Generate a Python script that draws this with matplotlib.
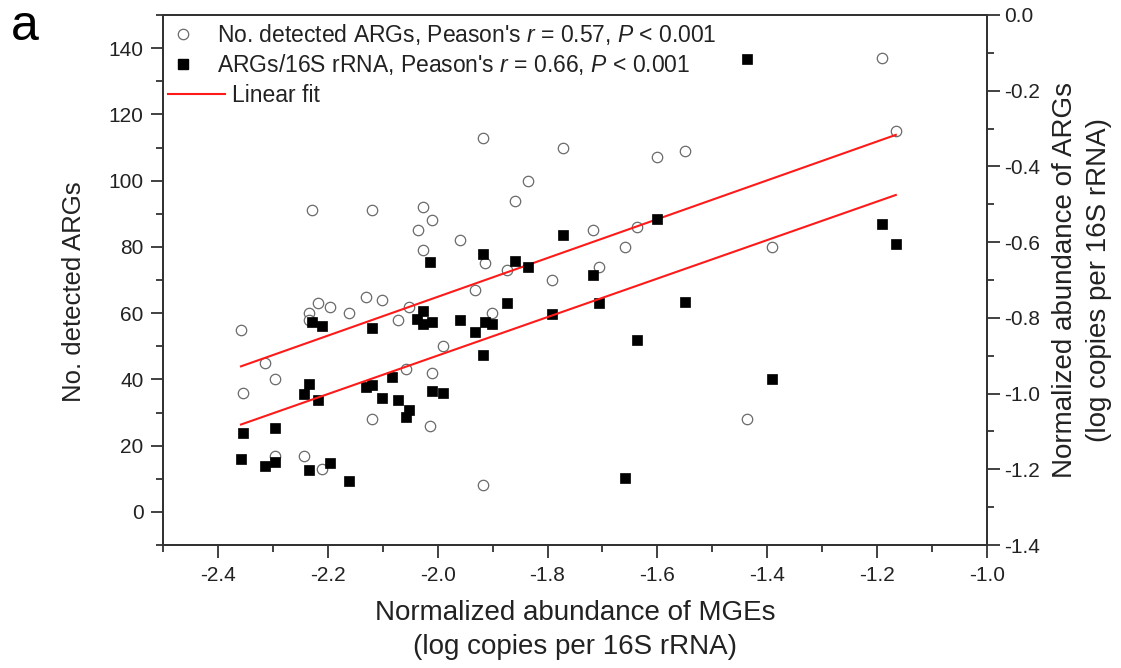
import numpy as np
import matplotlib.pyplot as plt
from matplotlib.lines import Line2D
from matplotlib.ticker import MultipleLocator, FormatStrFormatter

plt.rcParams['font.family'] = ['Liberation Sans', 'DejaVu Sans']
plt.rcParams['mathtext.fontset'] = 'custom'
plt.rcParams['mathtext.rm'] = 'Liberation Sans'
plt.rcParams['mathtext.it'] = 'Liberation Sans:italic'
plt.rcParams['axes.unicode_minus'] = False

# No. detected ARGs (left axis) vs normalized MGE abundance
mge_cnt = [-2.358, -2.314, -2.354, -2.296, -2.234, -2.234, -2.218, -2.196,
           -2.161, -2.130, -2.102, -2.053, -2.072, -1.932, -1.914, -1.874,
           -1.791, -1.902, -1.991, -2.058, -2.010, -2.119, -2.014, -2.296,
           -2.243, -2.210, -1.917, -1.917, -1.771, -1.835, -1.859, -2.229,
           -2.119, -2.026, -2.011, -2.036, -1.959, -2.027, -1.706, -1.436,
           -1.191, -1.166, -1.601, -1.550, -1.717, -1.638, -1.659, -1.392]
args_cnt = [55, 45, 36, 40, 60, 58, 63, 62,
            60, 65, 64, 62, 58, 67, 75, 73,
            70, 60, 50, 43, 42, 28, 26, 17,
            17, 13, 8, 113, 110, 100, 94, 91,
            91, 92, 88, 85, 82, 79, 74, 28,
            137, 115, 107, 109, 85, 86, 80, 80]

# ARGs/16S rRNA (right axis, log) vs normalized MGE abundance
mge_abd = [-2.229, -2.210, -2.119, -2.027, -2.038, -2.026, -2.011, -2.014,
           -1.859, -1.835, -1.959, -1.932, -1.914, -1.902, -1.917, -1.874,
           -1.791, -2.084, -2.234, -2.243, -2.218, -2.130, -2.119, -2.102,
           -2.072, -2.053, -2.058, -2.010, -1.991, -2.354, -2.296, -2.358,
           -2.314, -2.296, -2.234, -2.196, -2.161, -1.717, -1.706, -1.550,
           -1.638, -1.392, -1.659, -1.917, -1.771, -1.436, -1.601, -1.191,
           -1.166]
args_abd = [-0.812, -0.821, -0.826, -0.782, -0.803, -0.816, -0.812, -0.652,
            -0.650, -0.666, -0.806, -0.837, -0.810, -0.817, -0.898, -0.762,
            -0.790, -0.955, -0.976, -1.002, -1.017, -0.982, -0.977, -1.012,
            -1.017, -1.043, -1.061, -0.992, -0.999, -1.105, -1.092, -1.172,
            -1.191, -1.182, -1.202, -1.184, -1.231, -0.687, -0.760, -0.757,
            -0.858, -0.962, -1.224, -0.631, -0.582, -0.116, -0.539, -0.552,
            -0.606]

label_cnt = "No. detected ARGs, Peason's $\\mathit{r}$ = 0.57, $\\mathit{P}$ < 0.001"
label_abd = "ARGs/16S rRNA, Peason's $\\mathit{r}$ = 0.66, $\\mathit{P}$ < 0.001"

axis_col = '#333333'
text_col = '#222222'

fig = plt.figure(figsize=(11.21, 6.68), dpi=100)
ax = fig.add_axes([163 / 1121, 123 / 668, 824 / 1121, 530 / 668])
ax2 = ax.twinx()

# scatter
ax.plot(mge_cnt, args_cnt, 'o', ms=7.5, mfc='white', mec='#6a6a6a', mew=0.9)
ax2.plot(mge_abd, args_abd, 's', ms=7, mfc='black', mec='black', mew=0.5)

# linear fits
for xs, ys, a in [(mge_cnt, args_cnt, ax), (mge_abd, args_abd, ax2)]:
    k, b = np.polyfit(xs, ys, 1)
    xx = np.array([min(xs), max(xs)])
    a.plot(xx, k * xx + b, '-', color='#ff1a1a', lw=1.5)

ax.set_xlim(-2.5, -1.0)
ax.set_ylim(-10, 150)
ax2.set_ylim(-1.4, 0.0)

ax.xaxis.set_major_locator(MultipleLocator(0.2))
ax.xaxis.set_minor_locator(MultipleLocator(0.1))
ax.xaxis.set_major_formatter(FormatStrFormatter('%.1f'))
ax.yaxis.set_minor_locator(MultipleLocator(10))
ax.set_yticks([0, 20, 40, 60, 80, 100, 120, 140])
ax2.yaxis.set_major_locator(MultipleLocator(0.2))
ax2.yaxis.set_minor_locator(MultipleLocator(0.1))
ax2.yaxis.set_major_formatter(FormatStrFormatter('%.1f'))

for a in (ax, ax2):
    for s in a.spines.values():
        s.set_linewidth(1.4)
        s.set_color(axis_col)

ax.tick_params(axis='x', which='both', direction='out', top=False, color=axis_col,
               labelsize=15, labelcolor=text_col, width=1.3, pad=6)
ax.tick_params(axis='x', which='major', length=9)
ax.tick_params(axis='x', which='minor', length=5)
ax.tick_params(axis='y', which='both', direction='out', right=False, color=axis_col,
               labelsize=15, labelcolor=text_col, width=1.3, pad=5)
ax.tick_params(axis='y', which='major', length=9)
ax.tick_params(axis='y', which='minor', length=5)
ax2.tick_params(axis='y', which='both', direction='out', color=axis_col,
                labelsize=15, labelcolor=text_col, width=1.3, pad=3)
ax2.tick_params(axis='y', which='major', length=9)
ax2.tick_params(axis='y', which='minor', length=5)

ax.set_xlabel('Normalized abundance of MGEs\n(log copies per 16S rRNA)',
              fontsize=20, color=text_col, labelpad=11, linespacing=1.38)
ax.set_ylabel('No. detected ARGs', fontsize=18.5, color=text_col)
ax.yaxis.set_label_coords(-0.094, 0.478)
ax2.set_ylabel('Normalized abundance of ARGs\n(log copies per 16S rRNA)',
               fontsize=20, color=text_col, labelpad=9, linespacing=1.4)

# legend: markers, then the fit line
h_cnt = Line2D([], [], ls='', marker='o', ms=7.5, mfc='white', mec='#6a6a6a', mew=0.9)
h_abd = Line2D([], [], ls='', marker='s', ms=7, mfc='black', mec='black')
leg1 = ax2.legend([h_cnt, h_abd], [label_cnt, label_abd], loc='upper left',
                  bbox_to_anchor=(0.010, 0.986), frameon=False, fontsize=16.5,
                  handlelength=1.0, handletextpad=1.0, labelspacing=0.2,
                  borderpad=0, borderaxespad=0)
for t in leg1.get_texts():
    t.set_color(text_col)
ax2.add_artist(leg1)
h_fit = Line2D([], [], color='#ff1a1a', lw=1.5)
leg2 = ax2.legend([h_fit], ['Linear fit'], loc='upper left',
                  bbox_to_anchor=(0.006, 0.870), frameon=False, fontsize=16.5,
                  handlelength=2.5, handletextpad=0.3, borderpad=0, borderaxespad=0)
for t in leg2.get_texts():
    t.set_color(text_col)

fig.text(11 / 1121, 1 - 40 / 668, 'a', fontsize=36, va='baseline', ha='left')

fig.savefig('out.png', dpi=100)
